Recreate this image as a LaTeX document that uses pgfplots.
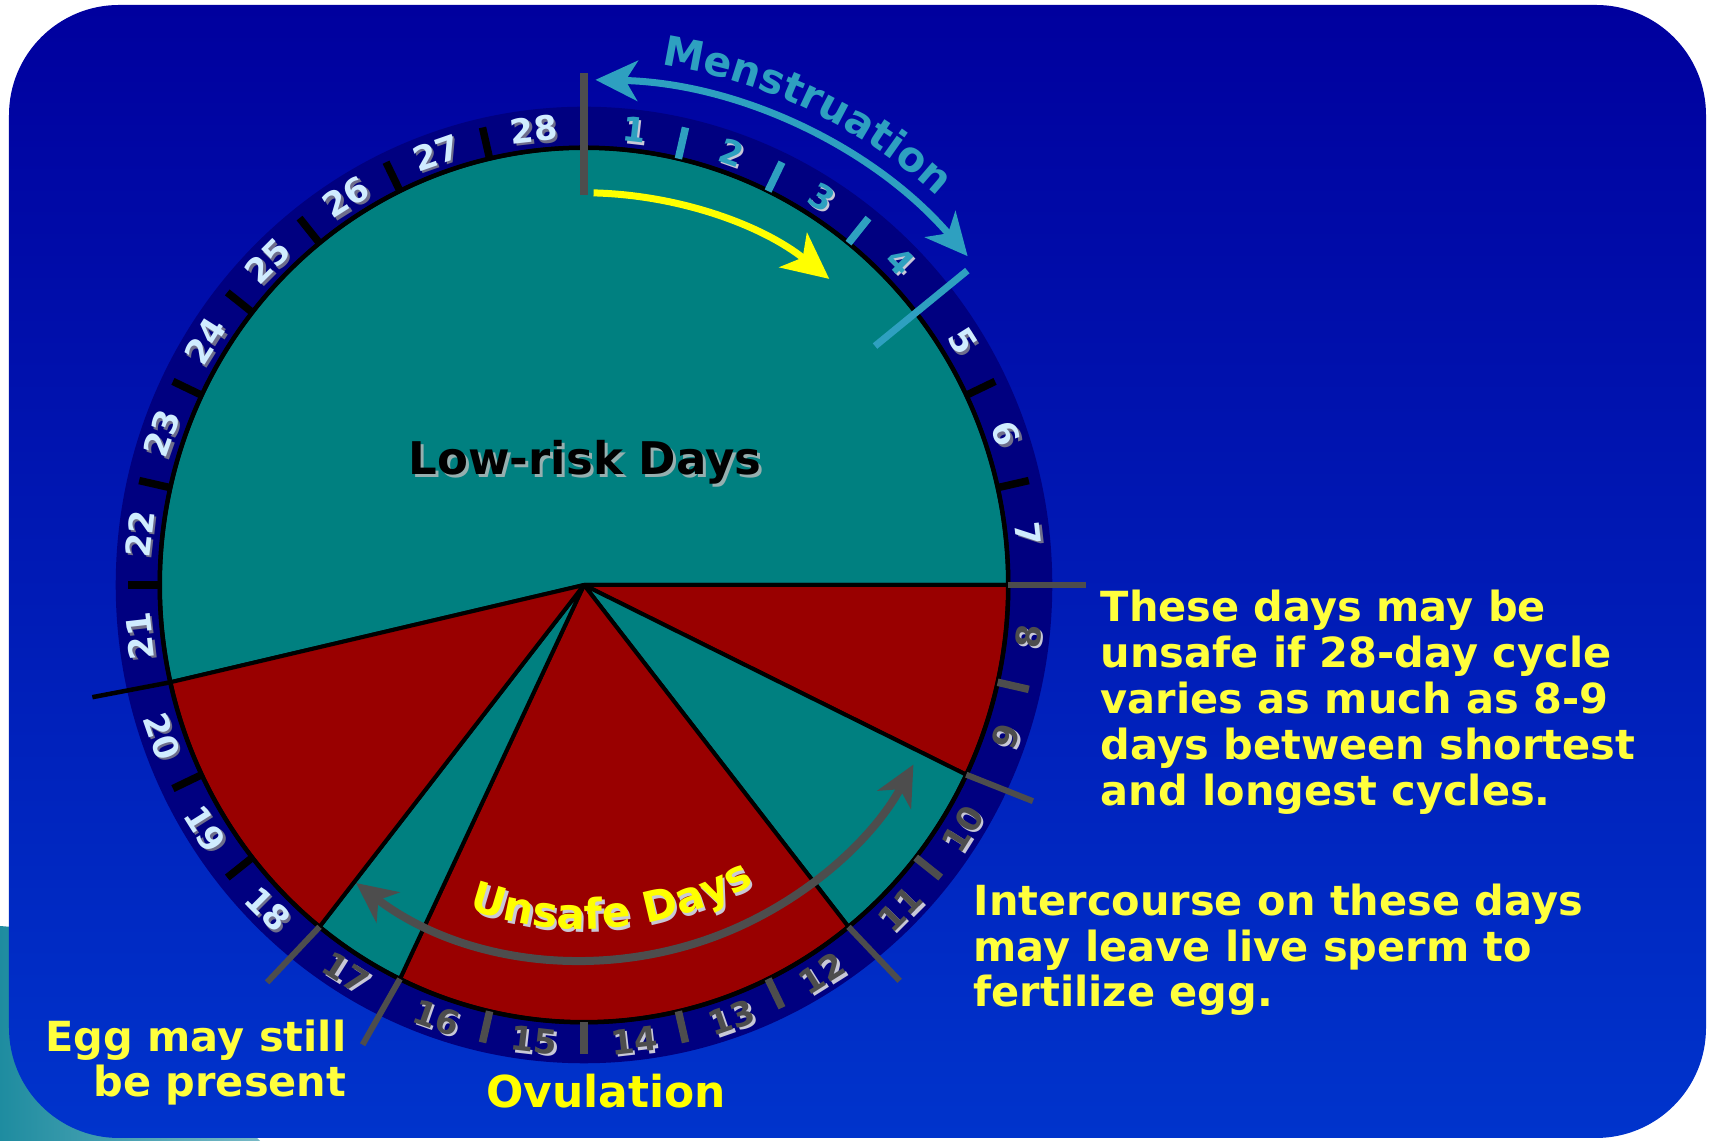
\documentclass[border=0pt]{standalone}
\usepackage{pgfplots}
\pgfplotsset{compat=1.18}
\usepackage{fontspec}
\setmainfont{DejaVu Sans}
\usetikzlibrary{arrows.meta,decorations.text}

\definecolor{bgtop}{RGB}{0,0,158}
\definecolor{bgbot}{RGB}{0,52,204}
\definecolor{ringc}{RGB}{0,0,128}
\definecolor{pteal}{RGB}{0,128,128}
\definecolor{pred}{RGB}{153,0,0}
\definecolor{lgray}{RGB}{77,77,77}
\definecolor{mblue}{RGB}{46,160,192}
\definecolor{numlight}{RGB}{208,236,255}
\definecolor{shdark}{RGB}{110,110,140}
\definecolor{shlight}{RGB}{200,200,215}
\definecolor{lowsh}{RGB}{150,175,175}
\definecolor{yel}{RGB}{255,255,0}
\definecolor{yel2}{RGB}{255,255,60}
\definecolor{swoosh}{RGB}{30,140,160}

\begin{document}
\begin{tikzpicture}
\begin{axis}[x=0.01cm, y=0.01cm, xmin=0, xmax=1710, ymin=0, ymax=1141,
  hide axis, clip=false]
\pgfplotsextra{
  % page background
  \fill[white] (axis cs:0,0) rectangle (axis cs:1710,1141);
  \shade[left color=swoosh, right color=swoosh!60!white] (axis cs:0,0) -- (axis cs:0,215) -- (axis cs:60,210) -- (axis cs:260,0) -- cycle;
  % panel
  \shade[top color=bgtop, bottom color=bgbot, rounded corners=1.1cm]
    (axis cs:9,3) rectangle (axis cs:1706,1136);
  \coordinate (C) at (axis cs:584,556);
  % ring
  \fill[ringc] (C) ellipse [x radius=4.68cm, y radius=4.78cm];
  % sectors: first day / last day / colour
  \foreach \a/\b/\c in {21/35/pteal, 8/9/pred, 10/11/pteal, 12/16/pred, 17/17/pteal, 18/20/pred}{
    \pgfmathsetmacro{\sa}{90-\b*360/28}
    \pgfmathsetmacro{\ea}{90-(\a-1)*360/28}
    \filldraw[fill=\c, draw=black, line width=0.04cm, line join=round]
      (C) -- +(\sa:4.24cm and 4.37cm) arc[start angle=\sa, end angle=\ea, x radius=4.24cm, y radius=4.37cm] -- cycle;
  }
  \draw[black, line width=0.045cm] (C) ellipse [x radius=4.24cm, y radius=4.37cm];
  % short ticks
  \foreach \d/\c in {1/mblue,2/mblue,3/mblue,5/black,6/black,8/lgray,10/lgray,12/lgray,13/lgray,14/lgray,15/lgray,18/black,19/black,21/black,22/black,23/black,24/black,25/black,26/black,27/black}{
    \pgfmathsetmacro{\t}{90-\d*360/28}
    \draw[\c, line width=0.075cm] ([shift={(\t:4.24cm and 4.37cm)}]C) -- ([shift={(\t:4.56cm and 4.69cm)}]C);
  }
  % long lines
  \pgfmathsetmacro{\t}{90-4*360/28}
  \draw[mblue, line width=0.07cm] ([shift={(\t:3.72cm and 3.83cm)}]C) -- ([shift={(\t:4.90cm and 5.04cm)}]C);
  \foreach \d/\r in {7/5.02, 9/4.98, 11/5.06, 16/5.10, 17/5.08}{
    \pgfmathsetmacro{\t}{90-\d*360/28}
    \draw[lgray, line width=0.06cm] ([shift={(\t:4.24cm and 4.37cm)}]C) -- ([shift={(\t:\r cm and \r cm)}]C);
  }
  \pgfmathsetmacro{\t}{90-20*360/28}
  \draw[black, line width=0.045cm] ([shift={(\t:4.24cm and 4.37cm)}]C) -- ([shift={(\t:5.04cm and 5.04cm)}]C);
  \draw[lgray, line width=0.075cm] ([shift={(90:3.9cm)}]C) -- ([shift={(90:5.12cm)}]C);
  % day numbers
  \foreach \d in {1,...,28}{
    \pgfmathsetmacro{\m}{90-(\d-0.5)*360/28}
    \ifnum\d<8 \def\rot{-90}\else\ifnum\d<21 \def\rot{90}\else\def\rot{-90}\fi\fi
    \ifnum\d<5 \def\nc{mblue}\def\sc{shlight}\else\ifnum\d<8 \def\nc{numlight}\def\sc{shdark}\else\ifnum\d<18 \def\nc{lgray}\def\sc{shlight}\else\def\nc{numlight}\def\sc{shdark}\fi\fi\fi
    \pgfmathsetmacro{\rr}{\m+\rot}
    \node[text=\sc, rotate=\rr, font=\fontsize{9.6pt}{10pt}\selectfont\bfseries, inner sep=0pt]
      at ([shift={(\m:4.47cm and 4.58cm)}, xshift=0.025cm, yshift=-0.025cm]C) {\d};
    \node[text=\nc, rotate=\rr, font=\fontsize{9.6pt}{10pt}\selectfont\bfseries, inner sep=0pt]
      at ([shift={(\m:4.47cm and 4.58cm)}]C) {\d};
  }
  % arrows
  \draw[mblue, line width=0.07cm, {Stealth[length=0.42cm,width=0.40cm,inset=0.12cm]}-{Stealth[length=0.42cm,width=0.40cm,inset=0.12cm]}]
    ([shift={(88.7:5.05cm)}]C) arc[start angle=88.7, end angle=40.6, radius=5.05cm];
  \draw[yel, line width=0.07cm, -{Stealth[length=0.46cm,width=0.44cm,inset=0.12cm]}]
    ([shift={(88.6:3.92cm)}]C) arc[start angle=88.6, end angle=51.3, radius=3.92cm];
  \draw[lgray, line width=0.08cm, {Stealth[length=0.40cm,width=0.38cm,inset=0.12cm]}-{Stealth[length=0.40cm,width=0.38cm,inset=0.12cm]}]
    ([shift={(-127.4:3.75cm)}]C) arc[start angle=-127.4, end angle=-28.6, radius=3.75cm];
  % curved texts
  \path[decorate, decoration={text along path, text color=mblue,
      text={|\fontsize{11.7pt}{12pt}\selectfont\bfseries|Menstruation}, text align=center}]
    ([shift={(84.6:5.25cm)}]C) arc[start angle=84.6, end angle=44.6, radius=5.25cm];
  \path[decorate, decoration={text along path, text color=shlight,
      text={|\fontsize{12pt}{12pt}\selectfont\bfseries|Unsafe Days}, text align=center}]
    ([shift={(-109.9:3.44cm)}, xshift=0.025cm, yshift=-0.03cm]C) arc[start angle=-109.9, end angle=-59.9, radius=3.44cm];
  \path[decorate, decoration={text along path, text color=yel,
      text={|\fontsize{12pt}{12pt}\selectfont\bfseries|Unsafe Days}, text align=center}]
    ([shift={(-109.9:3.44cm)}]C) arc[start angle=-109.9, end angle=-59.9, radius=3.44cm];
  % straight texts
  \node[anchor=base, inner sep=0pt, text=lowsh, font=\fontsize{12.8pt}{13pt}\selectfont\bfseries] at (axis cs:588,663) {Low-risk Days};
  \node[anchor=base, inner sep=0pt, text=black, font=\fontsize{12.8pt}{13pt}\selectfont\bfseries] at (axis cs:585,666) {Low-risk Days};
  \foreach \y/\s in {519/These days may be, 473/unsafe if 28-day cycle, 427/varies as much as 8-9, 381/days between shortest, 335/and longest cycles.}{
    \node[anchor=base west, inner sep=0pt, text=yel2, font=\fontsize{11.8pt}{12pt}\selectfont\bfseries] at (axis cs:1100,\y) {\s};
  }
  \foreach \y/\s in {225/Intercourse on these days, 179/may leave live sperm to, 134/fertilize egg.}{
    \node[anchor=base west, inner sep=0pt, text=yel2, font=\fontsize{11.8pt}{12pt}\selectfont\bfseries] at (axis cs:973,\y) {\s};
  }
  \foreach \y/\s in {89/Egg may still, 44/be present}{
    \node[anchor=base east, inner sep=0pt, text=yel2, font=\fontsize{11.8pt}{12pt}\selectfont\bfseries] at (axis cs:347,\y) {\s};
  }
  \node[anchor=base, inner sep=0pt, text=yel, font=\fontsize{12.5pt}{13pt}\selectfont\bfseries] at (axis cs:606,33) {Ovulation};
}
\end{axis}
\end{tikzpicture}
\end{document}
